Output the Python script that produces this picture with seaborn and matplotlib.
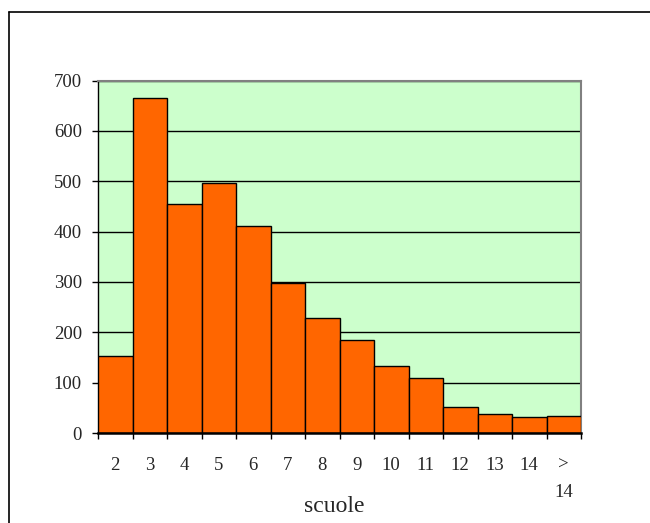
import matplotlib
matplotlib.use("Agg")
import matplotlib.pyplot as plt
from matplotlib.lines import Line2D
import seaborn as sns
import pandas as pd
import numpy as np

# data
categories = ['2', '3', '4', '5', '6', '7', '8', '9', '10', '11', '12', '13', '14', '>\n14']
counts = [152, 666, 455, 496, 412, 298, 229, 184, 133, 109, 52, 38, 31, 34]
y_ticks = [0, 100, 200, 300, 400, 500, 600, 700]

df = pd.DataFrame({'cat': categories, 'n': counts})

sns.set_style('ticks')
plt.rcParams['font.family'] = ['Liberation Serif', 'DejaVu Serif']

fig = plt.figure(figsize=(6.5, 5.23), dpi=100)
ax = fig.add_axes([98 / 650, 1 - 433 / 523, (581 - 98) / 650, (433 - 80.5) / 523])

sns.barplot(data=df, x='cat', y='n', ax=ax, width=1.0, color='#FF6600',
            saturation=1, edgecolor='black', linewidth=1, zorder=3)

ax.set_facecolor('#CCFFCC')
ax.set_xlim(-0.5, len(categories) - 0.5)
ax.set_ylim(0, 700)
ax.set_yticks(y_ticks)
ax.set_yticklabels([str(v) for v in y_ticks], fontsize=13.5)
ax.yaxis.grid(True, color='black', linewidth=1)
ax.set_axisbelow(True)

# ticks at bar boundaries, labels under bar centers
ax.set_xticks(np.arange(-0.5, len(categories), 1.0))
ax.set_xticklabels([])
ax.set_xticks(np.arange(len(categories)), minor=True)
ax.set_xticklabels(categories, minor=True, fontsize=13.5, va='top', linespacing=1.8)
ax.tick_params(axis='x', which='major', direction='out', length=4.5, width=1, color='black')
ax.tick_params(axis='x', which='minor', length=0, pad=17)
ax.tick_params(axis='y', direction='out', length=4.5, width=1, color='black', pad=7)

ax.set_xlabel('scuole', fontsize=17, va='center')
ax.xaxis.set_label_coords(0.49, (433 - 507) / 352.5)
ax.set_ylabel('')

for side in ['top', 'right']:
    ax.spines[side].set_color('#808080')
    ax.spines[side].set_linewidth(1.5)
ax.spines['left'].set_color('black')
ax.spines['left'].set_linewidth(1)
ax.spines['bottom'].set_color('black')
ax.spines['bottom'].set_linewidth(1.8)
ax.spines['bottom'].set_zorder(4)

# outer frame (only left and top visible in the crop)
fig.add_artist(Line2D([8.5 / 650, 8.5 / 650], [0, 1 - 12 / 523], color='black', lw=1.2))
fig.add_artist(Line2D([8.5 / 650, 1], [1 - 12 / 523, 1 - 12 / 523], color='black', lw=1.2))

fig.savefig('out.png', dpi=100)
